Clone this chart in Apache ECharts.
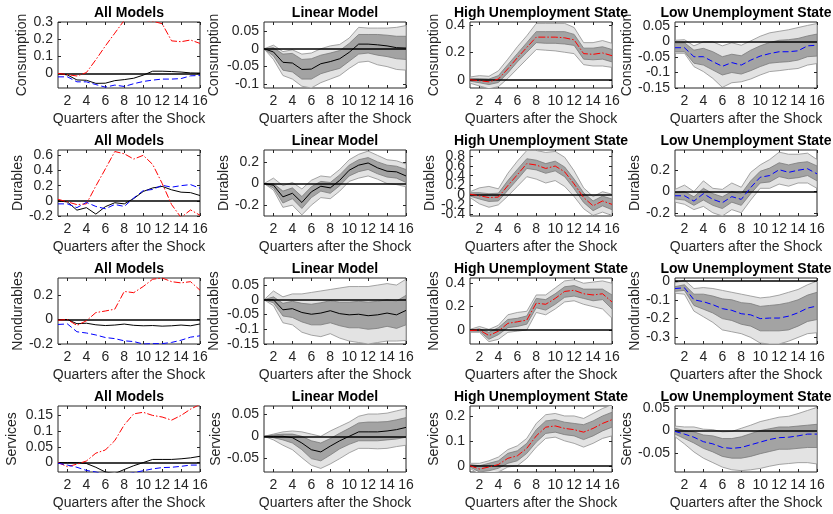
<!DOCTYPE html>
<html><head><meta charset="utf-8">
<script src="https://cdn.jsdelivr.net/npm/echarts@6/dist/echarts.min.js"></script>
<style>html,body{margin:0;padding:0;background:#fff}#c{width:833px;height:514px}</style>
</head><body><div id="c"></div>
<script>
const quarters = [1,2,3,4,5,6,7,8,9,10,11,12,13,14,15,16];
const xTickLabels = [2,4,6,8,10,12,14,16];
const colTitles = ['All Models','Linear Model','High Unemployment State','Low Unemployment State'];
const rowNames = ['Consumption','Durables','Nondurables','Services'];
const xAxisName = 'Quarters after the Shock';

// ---------- Consumption ----------
const consLinMean  = [0,-0.009,-0.038,-0.04,-0.058,-0.057,-0.042,-0.036,-0.028,-0.01,0.013,0.013,0.011,0.008,0.003,0.002];
const consLinInHi  = [0,0.003,-0.015,-0.013,-0.03,-0.028,-0.018,-0.012,-0.005,0.015,0.04,0.04,0.04,0.038,0.035,0.035];
const consLinInLo  = [0,-0.02,-0.06,-0.065,-0.085,-0.085,-0.07,-0.062,-0.055,-0.035,-0.015,-0.012,-0.018,-0.022,-0.028,-0.03];
const consLinOutHi = [0,0.01,-0.008,-0.003,-0.015,-0.012,0,0.008,0.012,0.03,0.06,0.058,0.058,0.058,0.06,0.065];
const consLinOutLo = [0,-0.03,-0.075,-0.085,-0.105,-0.11,-0.095,-0.085,-0.075,-0.055,-0.038,-0.035,-0.045,-0.05,-0.058,-0.06];

const consHighMean  = [0,-0.007,-0.015,0.005,0.08,0.16,0.235,0.31,0.31,0.31,0.305,0.29,0.19,0.185,0.195,0.175];
const consHighInHi  = [0.01,0.008,0.005,0.03,0.11,0.19,0.27,0.35,0.35,0.35,0.35,0.33,0.23,0.23,0.24,0.22];
const consHighInLo  = [-0.01,-0.022,-0.035,-0.02,0.05,0.13,0.2,0.27,0.265,0.265,0.26,0.25,0.15,0.145,0.15,0.13];
const consHighOutHi = [0.02,0.03,0.025,0.065,0.15,0.24,0.32,0.41,0.41,0.41,0.41,0.38,0.27,0.27,0.285,0.265];
const consHighOutLo = [-0.025,-0.045,-0.065,-0.05,0.01,0.08,0.15,0.22,0.215,0.21,0.2,0.19,0.11,0.1,0.1,0.09];

const consLowMean  = [-0.02,-0.02,-0.049,-0.049,-0.065,-0.08,-0.068,-0.076,-0.06,-0.047,-0.039,-0.033,-0.033,-0.03,-0.014,-0.012];
const consLowInHi  = [-0.006,-0.004,-0.028,-0.022,-0.033,-0.049,-0.041,-0.046,-0.028,-0.014,-0.003,0.004,0.006,0.01,0.018,0.024];
const consLowInLo  = [-0.033,-0.033,-0.07,-0.076,-0.092,-0.108,-0.1,-0.105,-0.094,-0.081,-0.07,-0.067,-0.065,-0.06,-0.049,-0.047];
const consLowOutHi = [0.004,0.006,-0.014,-0.001,-0.001,-0.014,-0.004,-0.012,0.002,0.017,0.028,0.033,0.038,0.045,0.052,0.058];
const consLowOutLo = [-0.038,-0.038,-0.081,-0.097,-0.119,-0.148,-0.133,-0.13,-0.121,-0.108,-0.097,-0.094,-0.09,-0.087,-0.076,-0.071];

// ---------- Durables ----------
const durLinMean  = [0,-0.015,-0.123,-0.09,-0.175,-0.077,-0.025,-0.04,0.03,0.123,0.17,0.19,0.145,0.114,0.108,0.07];
const durLinInHi  = [0,0,-0.07,-0.04,-0.12,-0.03,0.02,0.01,0.08,0.17,0.22,0.24,0.2,0.17,0.16,0.13];
const durLinInLo  = [0,-0.04,-0.18,-0.14,-0.23,-0.13,-0.07,-0.09,-0.02,0.07,0.11,0.13,0.09,0.06,0.05,0.01];
const durLinOutHi = [0,0.05,-0.02,0.01,-0.05,0.03,0.07,0.06,0.13,0.22,0.27,0.3,0.26,0.22,0.21,0.18];
const durLinOutLo = [0,-0.06,-0.22,-0.2,-0.29,-0.2,-0.13,-0.14,-0.07,0.02,0.05,0.07,0.04,0,-0.01,-0.03];

const durHighMean  = [0.02,-0.014,-0.05,-0.04,0.196,0.42,0.65,0.62,0.55,0.6,0.48,0.23,-0.05,-0.22,-0.12,-0.19];
const durHighInHi  = [0.05,0.05,0.03,0.04,0.3,0.53,0.75,0.72,0.65,0.7,0.58,0.33,0.05,-0.12,-0.02,-0.08];
const durHighInLo  = [-0.02,-0.08,-0.13,-0.12,0.1,0.32,0.55,0.52,0.45,0.5,0.38,0.13,-0.15,-0.32,-0.22,-0.3];
const durHighOutHi = [0.07,0.15,0.18,0.13,0.45,0.7,0.92,0.92,0.88,0.9,0.78,0.5,0.15,-0.03,0.07,0.02];
const durHighOutLo = [-0.05,-0.18,-0.25,-0.2,-0.02,0.18,0.38,0.33,0.25,0.3,0.18,-0.03,-0.28,-0.42,-0.35,-0.42];

const durLowMean  = [-0.04,-0.04,-0.09,-0.02,-0.074,-0.105,-0.048,-0.074,0.038,0.134,0.15,0.205,0.18,0.2,0.214,0.166];
const durLowInHi  = [-0.01,0,-0.05,0.03,-0.02,-0.05,0,-0.02,0.1,0.19,0.22,0.27,0.25,0.27,0.28,0.24];
const durLowInLo  = [-0.07,-0.08,-0.13,-0.08,-0.13,-0.16,-0.1,-0.13,-0.02,0.08,0.09,0.14,0.12,0.13,0.15,0.1];
const durLowOutHi = [0.02,0.06,0,0.1,0.03,0.02,0.08,0.04,0.18,0.25,0.3,0.37,0.35,0.35,0.36,0.3];
const durLowOutLo = [-0.1,-0.12,-0.17,-0.14,-0.2,-0.23,-0.17,-0.2,-0.08,0.03,0.03,0.07,0.05,0.08,0.08,0.03];

// ---------- Nondurables ----------
const ndLinMean  = [0,0,-0.034,-0.03,-0.043,-0.049,-0.045,-0.037,-0.047,-0.051,-0.049,-0.054,-0.051,-0.045,-0.051,-0.036];
const ndLinInHi  = [0,0.01,-0.012,-0.005,-0.012,-0.015,-0.01,-0.003,-0.008,-0.008,-0.005,-0.008,-0.005,0,-0.004,0.015];
const ndLinInLo  = [0,-0.01,-0.055,-0.06,-0.075,-0.085,-0.085,-0.078,-0.088,-0.095,-0.095,-0.1,-0.097,-0.09,-0.097,-0.085];
const ndLinOutHi = [0,0.03,0.01,0.02,0.02,0.025,0.03,0.035,0.04,0.045,0.045,0.045,0.05,0.055,0.05,0.07];
const ndLinOutLo = [0,-0.02,-0.078,-0.085,-0.11,-0.12,-0.125,-0.115,-0.13,-0.14,-0.145,-0.15,-0.145,-0.14,-0.14,-0.138];

const ndHighMean  = [-0.005,0,-0.048,-0.01,0.057,0.07,0.085,0.23,0.22,0.27,0.33,0.34,0.31,0.3,0.31,0.24];
const ndHighInHi  = [0,0.01,-0.02,0.02,0.09,0.1,0.12,0.27,0.26,0.31,0.37,0.38,0.35,0.35,0.35,0.3];
const ndHighInLo  = [-0.01,-0.01,-0.08,-0.04,0.02,0.03,0.05,0.19,0.17,0.22,0.28,0.29,0.27,0.25,0.26,0.18];
const ndHighOutHi = [0.005,0.03,0.005,0.04,0.13,0.15,0.16,0.3,0.3,0.36,0.42,0.43,0.4,0.41,0.42,0.4];
const ndHighOutLo = [-0.02,-0.02,-0.1,-0.08,-0.02,-0.01,0,0.15,0.13,0.18,0.24,0.25,0.22,0.2,0.18,0.1];

const ndLowMean  = [-0.04,-0.036,-0.1,-0.11,-0.126,-0.147,-0.156,-0.174,-0.18,-0.2,-0.197,-0.197,-0.187,-0.169,-0.144,-0.133];
const ndLowInHi  = [-0.03,-0.02,-0.07,-0.07,-0.08,-0.095,-0.1,-0.115,-0.12,-0.135,-0.13,-0.125,-0.115,-0.1,-0.075,-0.06];
const ndLowInLo  = [-0.055,-0.05,-0.13,-0.15,-0.17,-0.2,-0.21,-0.23,-0.24,-0.265,-0.265,-0.265,-0.26,-0.24,-0.215,-0.205];
const ndLowOutHi = [-0.01,0.005,-0.04,-0.035,-0.04,-0.05,-0.06,-0.07,-0.08,-0.09,-0.085,-0.075,-0.06,-0.045,-0.02,0];
const ndLowOutLo = [-0.065,-0.07,-0.16,-0.19,-0.22,-0.26,-0.27,-0.28,-0.3,-0.33,-0.335,-0.335,-0.32,-0.3,-0.28,-0.275];

// ---------- Services ----------
const svLinMean  = [0,0,0,-0.003,-0.015,-0.03,-0.035,-0.022,-0.01,0,0.01,0.01,0.01,0.012,0.015,0.02];
const svLinInHi  = [0,0.003,0.005,0.005,0,-0.01,-0.015,-0.005,0.007,0.018,0.03,0.032,0.032,0.033,0.037,0.042];
const svLinInLo  = [0,-0.003,-0.008,-0.015,-0.03,-0.05,-0.055,-0.042,-0.028,-0.018,-0.01,-0.01,-0.01,-0.008,-0.006,-0.002];
const svLinOutHi = [0,0.005,0.01,0.012,0.01,0.005,0,0.012,0.022,0.032,0.045,0.05,0.05,0.052,0.057,0.062];
const svLinOutLo = [0,-0.008,-0.02,-0.03,-0.048,-0.065,-0.072,-0.062,-0.05,-0.037,-0.027,-0.027,-0.028,-0.027,-0.023,-0.02];

const svHighMean  = [0,-0.013,-0.005,0.005,0.03,0.04,0.07,0.12,0.155,0.16,0.15,0.145,0.135,0.15,0.17,0.185];
const svHighInHi  = [0.005,0,0.01,0.02,0.05,0.06,0.09,0.145,0.18,0.185,0.175,0.17,0.165,0.18,0.2,0.215];
const svHighInLo  = [-0.005,-0.025,-0.02,-0.01,0.01,0.02,0.05,0.095,0.13,0.135,0.125,0.12,0.105,0.12,0.14,0.155];
const svHighOutHi = [0.01,0.01,0.02,0.035,0.065,0.08,0.11,0.17,0.205,0.21,0.2,0.2,0.19,0.21,0.23,0.245];
const svHighOutLo = [-0.01,-0.035,-0.03,-0.025,-0.005,0,0.03,0.075,0.11,0.115,0.1,0.09,0.075,0.09,0.11,0.12];

const svLowMean  = [-0.002,-0.008,-0.015,-0.025,-0.03,-0.038,-0.04,-0.038,-0.032,-0.026,-0.02,-0.016,-0.015,-0.012,-0.008,-0.008];
const svLowInHi  = [0.005,0,-0.003,-0.01,-0.012,-0.018,-0.018,-0.014,-0.007,0,0.004,0.008,0.008,0.01,0.012,0.014];
const svLowInLo  = [-0.008,-0.018,-0.028,-0.04,-0.048,-0.058,-0.062,-0.062,-0.058,-0.052,-0.047,-0.042,-0.042,-0.04,-0.038,-0.038];
const svLowOutHi = [0.01,0.008,0.008,0.003,0.002,-0.003,-0.002,0.005,0.012,0.02,0.025,0.03,0.032,0.038,0.045,0.052];
const svLowOutLo = [-0.014,-0.03,-0.048,-0.062,-0.072,-0.082,-0.088,-0.09,-0.088,-0.085,-0.08,-0.076,-0.074,-0.072,-0.072,-0.075];

// ---------- axis ranges & ticks (per row, per column) ----------
const yMins  = [[-0.085,-0.11,-0.06,-0.15],[-0.2,-0.3,-0.43,-0.23],[-0.2,-0.15,-0.12,-0.335],[-0.03,-0.08,-0.025,-0.093]];
const yMaxs  = [[0.3,0.075,0.42,0.063],[0.67,0.31,0.93,0.39],[0.34,0.074,0.445,0.016],[0.18,0.068,0.24,0.055]];
const yTicks = [
  [[0,0.1,0.2,0.3],[-0.1,-0.05,0,0.05],[0,0.2,0.4],[-0.15,-0.1,-0.05,0,0.05]],
  [[-0.2,0,0.2,0.4,0.6],[-0.2,0,0.2],[-0.4,-0.2,0,0.2,0.4,0.6,0.8],[-0.2,0,0.2]],
  [[-0.2,0,0.2],[-0.15,-0.1,-0.05,0,0.05],[0,0.2,0.4],[-0.3,-0.2,-0.1,0]],
  [[0,0.05,0.1,0.15],[-0.05,0,0.05],[0,0.1,0.2],[-0.05,0,0.05]]
];
// the dense Durables / High panel: labels split over two label layers so none is dropped
const denseLabelsA = [-0.4,0,0.4,0.8];
const denseLabelsB = [-0.2,0.2,0.6];

const rows = [
  {lin:[consLinMean,consLinInHi,consLinInLo,consLinOutHi,consLinOutLo], high:[consHighMean,consHighInHi,consHighInLo,consHighOutHi,consHighOutLo], low:[consLowMean,consLowInHi,consLowInLo,consLowOutHi,consLowOutLo]},
  {lin:[durLinMean,durLinInHi,durLinInLo,durLinOutHi,durLinOutLo], high:[durHighMean,durHighInHi,durHighInLo,durHighOutHi,durHighOutLo], low:[durLowMean,durLowInHi,durLowInLo,durLowOutHi,durLowOutLo]},
  {lin:[ndLinMean,ndLinInHi,ndLinInLo,ndLinOutHi,ndLinOutLo], high:[ndHighMean,ndHighInHi,ndHighInLo,ndHighOutHi,ndHighOutLo], low:[ndLowMean,ndLowInHi,ndLowInLo,ndLowOutHi,ndLowOutLo]},
  {lin:[svLinMean,svLinInHi,svLinInLo,svLinOutHi,svLinOutLo], high:[svHighMean,svHighInHi,svHighInLo,svHighOutHi,svHighOutLo], low:[svLowMean,svLowInHi,svLowInLo,svLowOutHi,svLowOutLo]}
];

// ---------- layout ----------
const gridLefts = [58,264,470,675];
const gridTops = [22,150,278,406];
const gridW = 142, gridH = 66;
const nameGaps = [[27,43,28,41],[31,31,32,31],[32,43,28,33],[39,35,26,36]];
const FONT = 'Liberation Sans, Arial, Helvetica, sans-serif';
const TXT = '#262626';
const RED = '#ff0000', BLUE = '#0000ff', BLACK = '#000000';
const DASHDOT = [7,2,1.5,2], DASHED = [6,3];

const grids=[], xAxes=[], yAxes=[], series=[], titles=[], extraY=[];
function pts(arr){ return quarters.map((q,i)=>[q,arr[i]]); }

function bandSeries(ai, hi, lo, fill, stroke){
  return {type:'custom', xAxisIndex:ai*2, yAxisIndex:ai*2, silent:true,
    data: quarters.map((q,i)=>[q,lo[i],hi[i]]),
    encode:{x:0,y:[1,2]},
    renderItem:(params, api)=>{
      if(params.dataIndex!==0) return null;
      const p=[];
      for(let i=0;i<quarters.length;i++) p.push(api.coord([quarters[i],hi[i]]));
      for(let i=quarters.length-1;i>=0;i--) p.push(api.coord([quarters[i],lo[i]]));
      const cs=params.coordSys;
      return {type:'polygon', shape:{points:p}, style:{fill:fill, stroke:stroke, lineWidth:0.8},
        clipPath:{type:'rect', shape:{x:cs.x,y:cs.y,width:cs.width,height:cs.height}}};
    }};
}
function lineSeries(ai, arr, color, dash, zero){
  const s={type:'line', xAxisIndex:ai*2, yAxisIndex:ai*2, data:pts(arr), symbol:'none', silent:true,
    lineStyle:{color:color,width:1,type:dash}, z:5};
  if(zero){
    s.markLine={silent:true,symbol:'none',label:{show:false},animation:false,
      lineStyle:{color:'#000',width:1.5,type:'solid'},data:[{yAxis:0}]};
  }
  return s;
}
const labelStyle = {show:true,fontFamily:FONT,fontSize:14,color:TXT,margin:5,
  showMinLabel:true,showMaxLabel:true,hideOverlap:false};

for(let r=0;r<4;r++){
  for(let c=0;c<4;c++){
    const ai=r*4+c;
    const dense = (r===1 && c===2);
    grids.push({left:gridLefts[c], top:gridTops[r], width:gridW, height:gridH, show:true,
      borderColor:TXT, borderWidth:1, backgroundColor:'#fff', containLabel:false});
    const xBase={type:'value', gridIndex:ai, min:1, max:16, splitLine:{show:false},
      axisLine:{show:false,onZero:false}};
    xAxes.push(Object.assign({}, xBase, {position:'bottom',
      name:xAxisName, nameLocation:'middle', nameGap:24,
      nameTextStyle:{fontFamily:FONT,fontSize:14,color:TXT},
      axisTick:{show:true,inside:true,length:3,lineStyle:{color:TXT},customValues:xTickLabels},
      axisLabel:Object.assign({},labelStyle,{margin:6,customValues:xTickLabels})}));
    xAxes.push(Object.assign({}, xBase, {position:'top',
      axisTick:{show:true,inside:true,length:3,lineStyle:{color:TXT},customValues:xTickLabels},
      axisLabel:{show:false}}));
    const yBase={type:'value', gridIndex:ai, min:yMins[r][c], max:yMaxs[r][c], splitLine:{show:false},
      axisLine:{show:false,onZero:false}};
    yAxes.push(Object.assign({}, yBase, {position:'left',
      name:rowNames[r], nameLocation:'middle', nameGap:nameGaps[r][c], nameRotate:90,
      nameTextStyle:{fontFamily:FONT,fontSize:14,color:TXT},
      axisTick:{show:true,inside:true,length:3,lineStyle:{color:TXT},customValues:yTicks[r][c]},
      axisLabel:Object.assign({},labelStyle,{customValues: dense?denseLabelsA:yTicks[r][c]})}));
    yAxes.push(Object.assign({}, yBase, {position:'right',
      axisTick:{show:true,inside:true,length:3,lineStyle:{color:TXT},customValues:yTicks[r][c]},
      axisLabel:{show:false}}));
    if(dense){
      extraY.push(Object.assign({}, yBase, {position:'left', offset:0,
        axisTick:{show:false}, axisLabel:Object.assign({},labelStyle,{customValues:denseLabelsB})}));
    }
    titles.push({text:colTitles[c], left:gridLefts[c]+gridW/2, top:gridTops[r]-16, textAlign:'center',
      padding:0, textStyle:{fontFamily:FONT,fontSize:14,fontWeight:'bold',color:BLACK}});

    const d=rows[r];
    if(c===0){
      series.push(lineSeries(ai,d.lin[0],BLACK,'solid',true));
      series.push(lineSeries(ai,d.high[0],RED,DASHDOT,false));
      series.push(lineSeries(ai,d.low[0],BLUE,DASHED,false));
    } else {
      const m = c===1?d.lin:(c===2?d.high:d.low);
      const col = c===1?BLACK:(c===2?RED:BLUE);
      const dash = c===1?'solid':(c===2?DASHDOT:DASHED);
      series.push(bandSeries(ai,m[3],m[4],'#e3e3e3','#8f8f8f'));
      series.push(bandSeries(ai,m[1],m[2],'#a3a3a3','#7a7a7a'));
      series.push(lineSeries(ai,m[0],col,dash,true));
    }
  }
}
extraY.forEach(a=>yAxes.push(a));

const chart=echarts.init(document.getElementById('c'),null,{renderer:'canvas'});
chart.setOption({animation:false, backgroundColor:'#fff', title:titles, grid:grids, xAxis:xAxes, yAxis:yAxes, series:series});
</script></body></html>
